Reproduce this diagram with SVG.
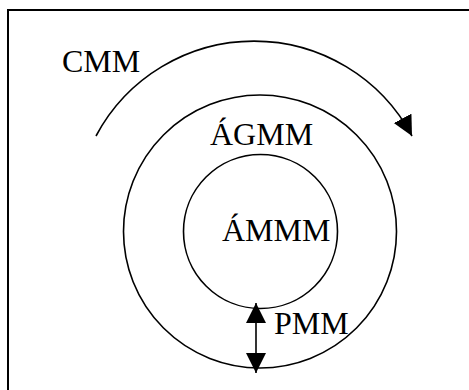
<svg xmlns="http://www.w3.org/2000/svg" width="469" height="390" viewBox="0 0 469 390">
  <style>
    .ring { fill: none; stroke: #000; stroke-width: 1.6; }
    .conn { fill: none; stroke: #000; stroke-width: 1.6; }
    .lbl { font-family: "Liberation Serif", "Times New Roman", serif; font-size: 32px; fill: #000; }
  </style>
  <defs>
    <marker id="head" markerUnits="userSpaceOnUse" markerWidth="22" markerHeight="22" refX="20" refY="10" orient="auto-start-reverse">
      <path d="M0,0 L20,10 L0,20 Z" fill="#000"/>
    </marker>
  </defs>

  <!-- page frame (runs past the right and bottom edges) -->
  <rect id="frame" x="8" y="10" width="480" height="400" fill="#fff" stroke="#000" stroke-width="2"/>

  <g id="agmm">
    <circle class="ring" cx="260" cy="231.5" r="136.5"/>
    <text class="lbl" x="210" y="145">ÁGMM</text>
  </g>

  <g id="ammm">
    <circle class="ring" cx="260.5" cy="231.5" r="77"/>
    <text class="lbl" x="222" y="241">ÁMMM</text>
  </g>

  <g id="cmm">
    <text class="lbl" x="62" y="72">CMM</text>
  </g>

  <g id="pmm">
    <text class="lbl" x="274" y="334">PMM</text>
  </g>

  <g id="connectors">
    <path class="conn" d="M96,136 A179,179 0 0 1 412,136" marker-end="url(#head)"/>
    <path class="conn" d="M256,303 L256,373" marker-start="url(#head)" marker-end="url(#head)"/>
  </g>
</svg>
